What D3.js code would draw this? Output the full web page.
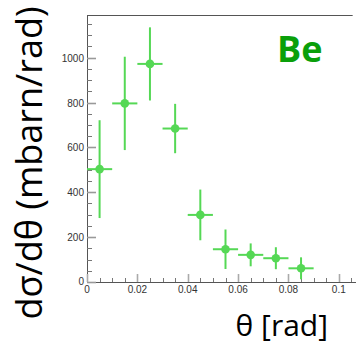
<!DOCTYPE html>
<html>
<head>
<meta charset="utf-8">
<script src="https://cdn.jsdelivr.net/npm/d3@7"></script>
<style>
  body { margin: 0; background: #fff; }
  svg { display: block; }
</style>
</head>
<body>
<div id="chart"></div>
<script>
// data: bin centre, value, errors
const theta = [0.005, 0.015, 0.025, 0.035, 0.045, 0.055, 0.065, 0.075, 0.085];
const xsec = [503, 796, 972, 684, 299, 146, 121, 106, 61];
const xsecErr = [218, 208, 163, 110, 113, 88, 51, 49, 49];
const thetaErr = [0.005, 0.005, 0.005, 0.005, 0.005, 0.005, 0.005, 0.005, 0.005];
const xTicks = [0, 0.02, 0.04, 0.06, 0.08, 0.1];
const yTicks = [0, 200, 400, 600, 800, 1000];

const W = 356, H = 345;
const margin = { top: 15, left: 87, bottom: 63 };
const plotW = 277;

const svg = d3.select("#chart").append("svg")
    .attr("width", W)
    .attr("height", H);

const x = d3.scaleLinear().domain([0, 0.11]).range([margin.left, margin.left + plotW]);
const y = d3.scaleLinear().domain([0, 1190]).range([H - margin.bottom, margin.top]);

const axisColor = "#555";

// frame: left, top and bottom lines (right side is outside the picture)
const frame = svg.append("g")
    .attr("stroke", axisColor)
    .attr("stroke-width", 1);
frame.append("line")
    .attr("x1", x(0) + 0.5).attr("x2", x(0) + 0.5)
    .attr("y1", y(1190)).attr("y2", y(0));
frame.append("line")
    .attr("x1", x(0)).attr("x2", x(0.1055))
    .attr("y1", y(1190) + 0.5).attr("y2", y(1190) + 0.5);
frame.append("line")
    .attr("x1", x(0)).attr("x2", W)
    .attr("y1", y(0) + 0.5).attr("y2", y(0) + 0.5);

// y ticks: major every 200, minor every 50, drawn inward
const yMinor = d3.range(0, 1190, 50);
svg.append("g").selectAll("line")
    .data(yMinor)
    .enter().append("line")
    .attr("x1", x(0))
    .attr("x2", d => x(0) + (d % 200 === 0 ? 9 : 5))
    .attr("y1", d => Math.round(y(d)) + 0.5)
    .attr("y2", d => Math.round(y(d)) + 0.5)
    .attr("stroke", d => d % 200 === 0 ? "#999" : "#777")
    .attr("stroke-width", d => d % 200 === 0 ? 1.6 : 1);

svg.append("g").selectAll("text")
    .data(yTicks)
    .enter().append("text")
    .attr("x", x(0) - 3)
    .attr("y", d => y(d) + (d === 0 ? 3 : 4))
    .attr("text-anchor", "end")
    .attr("font-family", "Liberation Sans, Arial, sans-serif")
    .attr("font-size", 10)
    .attr("fill", "#333")
    .text(d => d);

// x ticks: major every 0.02, minor every 0.005, drawn upward
const xMinor = d3.range(0, 22).map(i => i * 0.005);
svg.append("g").selectAll("line")
    .data(xMinor)
    .enter().append("line")
    .attr("x1", d => Math.round(x(d)) + 0.5)
    .attr("x2", d => Math.round(x(d)) + 0.5)
    .attr("y1", y(0))
    .attr("y2", (d, i) => y(0) - (i % 4 === 0 ? 8 : 4))
    .attr("stroke", (d, i) => i % 4 === 0 ? "#aaa" : "#777")
    .attr("stroke-width", (d, i) => i % 4 === 0 ? 1.6 : 1);

svg.append("g").selectAll("text")
    .data(xTicks)
    .enter().append("text")
    .attr("x", d => x(d))
    .attr("y", y(0) + 11)
    .attr("text-anchor", "middle")
    .attr("font-family", "Liberation Sans, Arial, sans-serif")
    .attr("font-size", 10)
    .attr("fill", "#333")
    .text(d => d === 0 ? "0" : d3.format("~g")(d));

// data points with error bars
const green = "#55d855";
const pts = theta.map((t, i) => ({ t: t, v: xsec[i], ev: xsecErr[i], et: thetaErr[i] }));

const g = svg.append("g");
g.selectAll(".ey")
    .data(pts)
    .enter().append("line")
    .attr("x1", d => x(d.t))
    .attr("x2", d => x(d.t))
    .attr("y1", d => y(d.v + d.ev))
    .attr("y2", d => y(Math.max(0, d.v - d.ev)))
    .attr("stroke", green)
    .attr("stroke-width", 2);

g.selectAll(".ex")
    .data(pts)
    .enter().append("line")
    .attr("x1", d => x(d.t - d.et))
    .attr("x2", d => x(d.t + d.et))
    .attr("y1", d => y(d.v))
    .attr("y2", d => y(d.v))
    .attr("stroke", green)
    .attr("stroke-width", 2);

g.selectAll("circle")
    .data(pts)
    .enter().append("circle")
    .attr("cx", d => x(d.t))
    .attr("cy", d => y(d.v))
    .attr("r", 4.3)
    .attr("fill", green);

// label
svg.append("text")
    .attr("x", 277)
    .attr("y", 62)
    .attr("font-family", "Open Sans, sans-serif")
    .attr("font-weight", "bold")
    .attr("font-size", 36)
    .attr("fill", "#0a9f0a")
    .text("Be");

// axis titles
svg.append("text")
    .attr("transform", "translate(42,163) rotate(-90)")
    .attr("text-anchor", "middle")
    .attr("font-family", "Open Sans, sans-serif")
    .attr("font-size", 36)
    .attr("fill", "#000")
    .text("dσ/dθ (mbarn/rad)");

svg.append("text")
    .attr("x", 328)
    .attr("y", 336)
    .attr("text-anchor", "end")
    .attr("font-family", "Open Sans, sans-serif")
    .attr("font-size", 30)
    .attr("fill", "#000")
    .text("θ [rad]");
</script>
</body>
</html>
